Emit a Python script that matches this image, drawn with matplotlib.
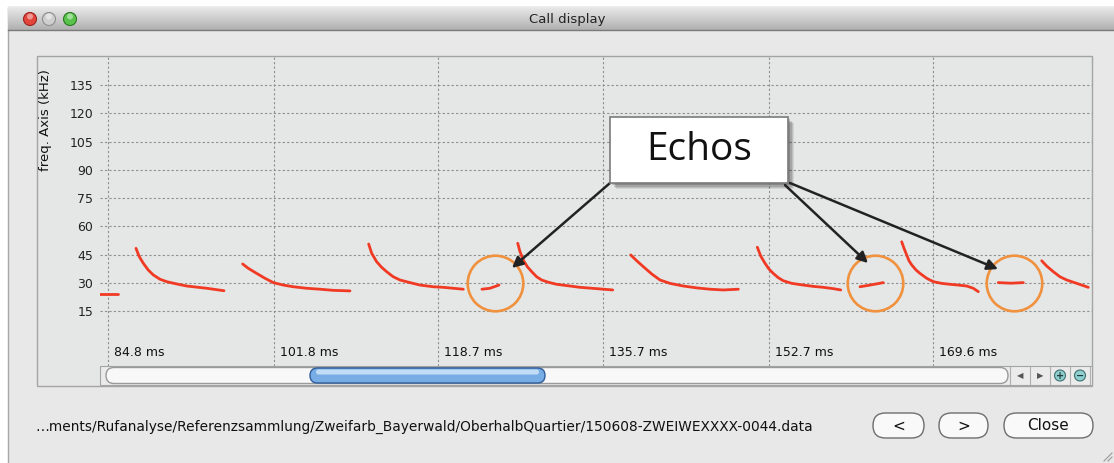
import numpy as np
import matplotlib
matplotlib.use("Agg")
import matplotlib.pyplot as plt
import matplotlib.transforms as mtransforms
from matplotlib.patches import Rectangle, FancyBboxPatch, Circle
from matplotlib.colors import LinearSegmentedColormap

# ------------------------------------------------------------------ data
tick_ms = [84.8, 101.8, 118.7, 135.7, 152.7, 169.6]
tick_labels = ["84.8 ms", "101.8 ms", "118.7 ms", "135.7 ms", "152.7 ms", "169.6 ms"]
freq_ticks = [15, 30, 45, 60, 75, 90, 105, 120, 135]

# bat calls (time in ms, frequency in kHz)
call0_t = [83.8, 85.8]
call0_f = [24.0, 24.0]
call1_t = [87.63, 87.97, 88.38, 88.89, 89.41, 90.10, 90.79, 91.81, 92.84, 94.90, 96.68]
call1_f = [48.3, 43.9, 40.4, 36.8, 34.2, 31.9, 30.6, 29.4, 28.3, 27.1, 25.8]
call2_t = [98.60, 99.18, 100.04, 100.90, 101.75, 102.78, 103.81, 105.18, 106.55, 107.92, 109.64]
call2_f = [40.0, 37.7, 35.0, 32.4, 30.1, 28.8, 27.9, 27.1, 26.6, 26.0, 25.7]
call3_t = [111.56, 111.87, 112.38, 112.90, 113.41, 114.09, 114.78, 115.81, 116.84, 118.21,
           119.23, 120.26, 121.29]
call3_f = [50.6, 45.7, 41.2, 38.2, 35.9, 33.2, 31.5, 30.1, 28.8, 27.9, 27.6, 27.1, 26.6]
call4_t = [126.89, 127.12, 127.46, 127.87, 128.33, 128.84, 129.35, 130.03, 130.90, 132.26,
           133.29, 135.01, 136.66]
call4_f = [51.0, 46.6, 42.1, 38.6, 35.9, 33.2, 31.5, 30.3, 29.2, 28.3, 27.6, 26.9, 26.2]
call5_t = [138.51, 139.13, 139.80, 140.67, 141.52, 142.55, 143.92, 145.30, 146.66, 148.03, 149.58]
call5_f = [44.8, 41.7, 38.6, 34.7, 31.5, 29.7, 28.3, 27.3, 26.6, 26.2, 26.6]
call6_t = [151.53, 151.88, 152.32, 152.73, 153.17, 153.69, 154.20, 155.07, 156.26, 157.29,
           158.32, 159.35, 160.11]
call6_f = [48.9, 44.2, 40.4, 37.3, 35.0, 32.7, 31.1, 29.7, 28.8, 28.1, 27.6, 26.9, 26.2]
call7_t = [166.38, 166.62, 166.89, 167.13, 167.41, 167.85, 168.26, 168.95, 169.63, 170.49,
           171.35, 172.20, 173.06, 173.74, 174.26]
call7_f = [51.8, 48.3, 44.8, 41.7, 39.5, 36.8, 35.0, 32.4, 30.6, 29.7, 29.2, 28.8, 28.3, 27.1, 25.3]
call8_t = [180.78, 181.29, 181.97, 182.66, 183.35, 184.38, 185.57]
call8_f = [41.7, 38.9, 35.9, 33.2, 31.5, 29.7, 27.6]

calls_t = [call0_t, call1_t, call2_t, call3_t, call4_t, call5_t, call6_t, call7_t, call8_t]
calls_f = [call0_f, call1_f, call2_f, call3_f, call4_f, call5_f, call6_f, call7_f, call8_f]

# echoes
echo1_t = [123.21, 124.04, 124.96]
echo1_f = [26.6, 27.1, 28.8]
echo2_t = [162.09, 163.12, 164.49]
echo2_f = [27.9, 28.8, 30.1]
echo3_t = [176.31, 177.6, 178.89]
echo3_f = [30.1, 29.8, 30.1]
echoes_t = [echo1_t, echo2_t, echo3_t]
echoes_f = [echo1_f, echo2_f, echo3_f]

# annotation: circles around echoes, arrows from the label box
circle_t = [124.55, 163.63, 177.95]
circle_f = [29.7, 29.7, 29.7]
arrow_tip_t = [126.30, 162.91, 176.28]
arrow_tip_f = [37.9, 40.5, 37.3]
arrow_tail_t = [136.38, 154.38, 154.89]
arrow_tail_f = [83.0, 81.9, 83.0]
label_text = "Echos"

path_text = ("\u2026ments/Rufanalyse/Referenzsammlung/Zweifarb_Bayerwald/"
             "OberhalbQuartier/150608-ZWEIWEXXXX-0044.data")

# ------------------------------------------------------------------ figure
W, H = 1114, 463
fig = plt.figure(figsize=(W / 100, H / 100), dpi=100, facecolor="white")

# window chrome drawn in pixel coordinates
bg = fig.add_axes([0, 0, 1, 1], zorder=0)
bg.axis("off")

bg.add_patch(Rectangle((8, 7), W, H, facecolor="#e8e8e8", edgecolor="#a8a8a8", lw=1))
cmap = LinearSegmentedColormap.from_list("tb", ["#e9e9e9", "#cdcdcd", "#b0b0b0"])
grad = np.linspace(0, 1, 60).reshape(-1, 1)
bg.imshow(grad, cmap=cmap, extent=(8, W, 30, 7), aspect="auto", origin="upper", zorder=1)
bg.plot([8, W], [30, 30], color="#7a7a7a", lw=1, zorder=2)
for cx, fc, ec in [(30, "#e2453c", "#9b2420"), (49, "#cfcfcf", "#8e8e8e"), (70, "#58c24a", "#2c7a22")]:
    bg.add_patch(Circle((cx, 19), 6.5, facecolor=fc, edgecolor=ec, lw=0.8, zorder=3))
    bg.add_patch(Circle((cx, 16.5), 3.0, facecolor="white", edgecolor="none", alpha=0.45, zorder=4))
bg.text(567, 19, "Call display", ha="center", va="center", fontsize=9.5, color="#222222", zorder=3)

# plot panel
bg.add_patch(Rectangle((37, 56), 1055, 330, facecolor="#e5e6e6", edgecolor="#a4a4a4", lw=1, zorder=1))

# scrollbar
bg.add_patch(Rectangle((100, 366), 992, 19, facecolor="#ebebeb", edgecolor="#a4a4a4", lw=0.8, zorder=2))
bg.add_patch(FancyBboxPatch((106, 367.5), 902, 16, boxstyle="round,pad=0,rounding_size=8",
                            facecolor="#f8f8f8", edgecolor="#9a9a9a", lw=1, zorder=3))
bg.add_patch(FancyBboxPatch((310, 368), 235, 15, boxstyle="round,pad=0,rounding_size=7.5",
                            facecolor="#78ace4", edgecolor="#2e5d9c", lw=1, zorder=4))
bg.add_patch(FancyBboxPatch((316, 369.5), 223, 5, boxstyle="round,pad=0,rounding_size=2.5",
                            facecolor="#c3dcf5", edgecolor="none", zorder=5))
for sx in [1010, 1030, 1050, 1070, 1090]:
    bg.plot([sx, sx], [367, 384], color="#b0b0b0", lw=0.8, zorder=3)
bg.text(1020, 375.5, "\u25C0", ha="center", va="center", fontsize=6, color="#555555", zorder=4)
bg.text(1040, 375.5, "\u25B6", ha="center", va="center", fontsize=6, color="#555555", zorder=4)
for cx, sym in [(1060, "+"), (1080, "\u2212")]:
    bg.add_patch(Circle((cx, 375.5), 5.5, facecolor="#8fcfcf", edgecolor="#3e6e6e", lw=0.8, zorder=4))
    bg.text(cx, 375.8, sym, ha="center", va="center", fontsize=7, color="#1f3f3f",
            fontweight="bold", zorder=5)

# path + buttons
bg.text(35, 426.5, path_text, ha="left", va="center", fontsize=9.9, color="#111111", zorder=3)
for (bx, bw, lab) in [(873, 51, "<"), (939, 49, ">"), (1004, 89, "Close")]:
    bg.add_patch(FancyBboxPatch((bx, 413), bw, 25, boxstyle="round,pad=0,rounding_size=12.5",
                                facecolor="#f9f9f9", edgecolor="#6e6e6e", lw=1, zorder=3))
    bg.text(bx + bw / 2, 426, lab, ha="center", va="center", fontsize=11, color="#111111", zorder=4)
for d in [4, 8]:
    bg.plot([W - 2 - d, W - 2], [H - 2, H - 2 - d], color="#9a9a9a", lw=0.8, zorder=3)

bg.set_xlim(0, W)
bg.set_ylim(H, 0)

# ------------------------------------------------------------------ main chart
ax = fig.add_axes([100 / W, (H - 366) / H, 992 / W, 310 / H], zorder=2)
ax.set_facecolor("none")
ax.set_xlim(83.93, 185.95)
ax.set_ylim(-14.18, 150.45)
for s in ax.spines.values():
    s.set_visible(False)

ax.set_xticks(tick_ms)
ax.set_yticks(freq_ticks)
ax.grid(True, color="#8e8e8e", linestyle=(0, (2, 2)), lw=0.8)
ax.tick_params(axis="x", length=0, labelbottom=False)
ax.tick_params(axis="y", length=0, pad=5, labelsize=9, labelcolor="#222222")
ax.set_ylabel("freq. Axis (kHz)", fontsize=9.5, color="#111111")
ax.yaxis.set_label_coords((45 - 100) / 992, (366 - 120) / 310)
ax.yaxis.label.set_va("center")

for t, lab in zip(tick_ms, tick_labels):
    ax.annotate(lab, xy=(t, 0), xycoords=("data", "axes fraction"),
                xytext=(6, 13), textcoords="offset pixels",
                fontsize=9, color="#111111", ha="left", va="center")

red = "#f03a24"
for t, f in zip(calls_t, calls_f):
    ax.plot(t, f, color=red, lw=2.0, solid_capstyle="round", solid_joinstyle="round", zorder=3)
for t, f in zip(echoes_t, echoes_f):
    ax.plot(t, f, color=red, lw=2.0, solid_capstyle="round", zorder=3)

ax.plot(circle_t, circle_f, linestyle="none", marker="o", markersize=40,
        markerfacecolor="none", markeredgecolor="#f0913e", markeredgewidth=1.9, zorder=4)

# label box with shadow
box_x0, box_y0 = 136.38, 83.0
box_w, box_h = 18.31, 35.1
for i, a in enumerate([0.08, 0.10, 0.13, 0.18]):
    off = mtransforms.offset_copy(ax.transData, fig=fig, x=6 - i * 1.2, y=-6 + i * 1.2, units="dots")
    ax.add_patch(Rectangle((box_x0, box_y0), box_w, box_h, transform=off,
                           facecolor="#000000", edgecolor="none", alpha=a, zorder=5))
ax.add_patch(Rectangle((box_x0, box_y0), box_w, box_h, facecolor="white",
                       edgecolor="#7a7a7a", lw=1.2, zorder=6))
ax.text(box_x0 + box_w / 2, box_y0 + box_h / 2, label_text, ha="center", va="center",
        fontsize=28, family="Open Sans", color="#111111", zorder=7)

for tx, ty, sx, sy in zip(arrow_tip_t, arrow_tip_f, arrow_tail_t, arrow_tail_f):
    ax.annotate("", xy=(tx, ty), xytext=(sx, sy),
                arrowprops=dict(arrowstyle="-|>", color="#222222", lw=1.8,
                                mutation_scale=16, shrinkA=0, shrinkB=0), zorder=5)

fig.savefig("out.png", dpi=100, facecolor="white")
